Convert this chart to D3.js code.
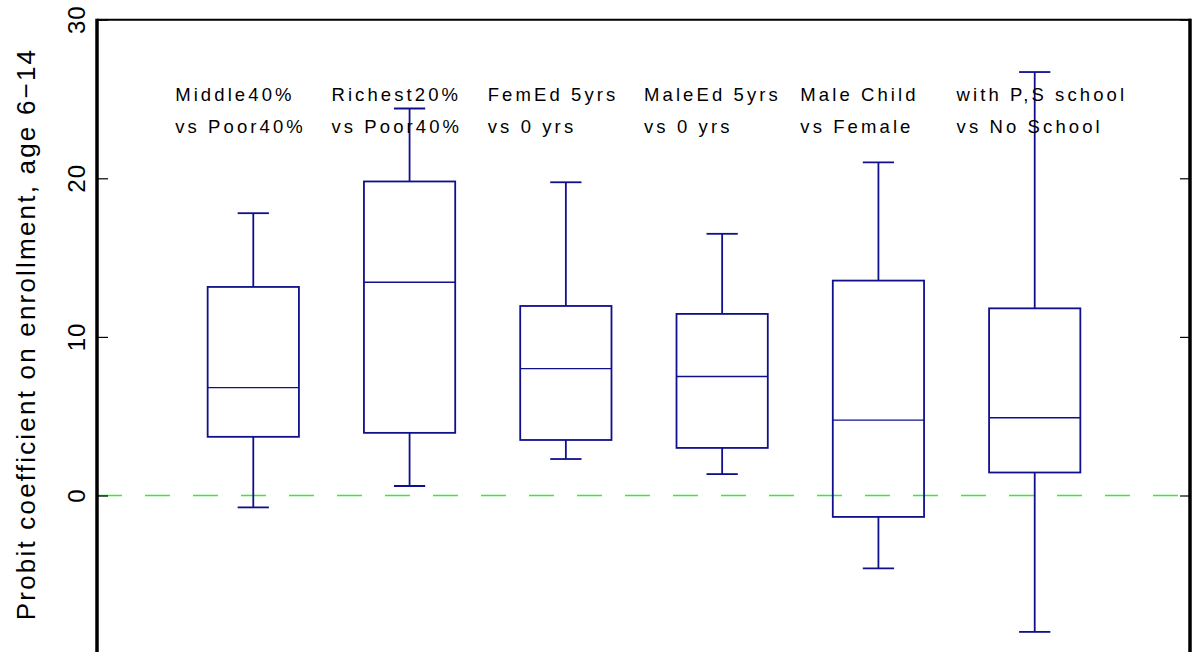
<!DOCTYPE html>
<html>
<head>
<meta charset="utf-8">
<script src="https://cdn.jsdelivr.net/npm/d3@7"></script>
<style>
  html, body { margin: 0; padding: 0; background: #fff; }
  svg { display: block; font-family: "Liberation Sans", Arial, Helvetica, sans-serif; }
</style>
</head>
<body>
<svg id="chart" width="1194" height="652"></svg>
<script>
// ---- data ----
const labelLine1 = ["Middle40%", "Richest20%", "FemEd 5yrs", "MaleEd 5yrs", "Male Child", "with P,S school"];
const labelLine2 = ["vs Poor40%", "vs Poor40%", "vs 0 yrs", "vs 0 yrs", "vs Female", "vs No School"];
const whiskerHigh = [17.8, 24.4, 19.75, 16.5, 21.0, 26.7];
const q3Values    = [13.15, 19.8, 11.95, 11.45, 13.55, 11.8];
const medians     = [6.8, 13.45, 8.0, 7.5, 4.75, 4.9];
const q1Values    = [3.7, 3.95, 3.5, 3.0, -1.35, 1.45];
const whiskerLow  = [-0.75, 0.6, 2.3, 1.35, -4.6, -8.6];
const yTicks = [0, 10, 20, 30];
const yLabel = "Probit coefficient on enrollment, age 6\u221214";
const referenceLine = 0;

// ---- layout ----
const svg = d3.select("#chart");
const x = d3.scaleLinear().domain([0, 7]).range([97, 1191]);
const y = d3.scaleLinear().domain([0, 30]).range([495.5, 19.7]);
const boxColor = "#10108c";
const halfW = 0.292, capW = 0.1;

// dashed green zero line
svg.append("line")
  .attr("x1", x(0)).attr("x2", x(7))
  .attr("y1", y(referenceLine)).attr("y2", y(referenceLine))
  .attr("stroke", "#33ee33").attr("stroke-width", 1.7)
  .attr("stroke-dasharray", "25,23");

// boxes
const data = labelLine1.map((d, i) => ({
  i: i + 1, hi: whiskerHigh[i], q3: q3Values[i], med: medians[i], q1: q1Values[i], lo: whiskerLow[i]
}));
const g = svg.append("g").attr("stroke", boxColor).attr("fill", "none").attr("stroke-width", 1.8);
data.forEach(d => {
  g.append("line").attr("x1", x(d.i)).attr("x2", x(d.i)).attr("y1", y(d.hi)).attr("y2", y(d.q3));
  g.append("line").attr("x1", x(d.i)).attr("x2", x(d.i)).attr("y1", y(d.q1)).attr("y2", y(d.lo));
  g.append("line").attr("x1", x(d.i - capW)).attr("x2", x(d.i + capW)).attr("y1", y(d.hi)).attr("y2", y(d.hi));
  g.append("line").attr("x1", x(d.i - capW)).attr("x2", x(d.i + capW)).attr("y1", y(d.lo)).attr("y2", y(d.lo));
  g.append("rect").attr("x", x(d.i - halfW)).attr("width", x(d.i + halfW) - x(d.i - halfW))
    .attr("y", y(d.q3)).attr("height", y(d.q1) - y(d.q3));
  g.append("line").attr("x1", x(d.i - halfW)).attr("x2", x(d.i + halfW))
    .attr("y1", y(d.med)).attr("y2", y(d.med)).attr("stroke-width", 1.4);
});

// category labels
const lab = svg.append("g").attr("font-size", 18.5).attr("letter-spacing", "3.1px").attr("fill", "#000");
data.forEach((d, i) => {
  lab.append("text").attr("x", x(d.i - 0.5)).attr("y", 101).text(labelLine1[i]);
  lab.append("text").attr("x", x(d.i - 0.5)).attr("y", 133).text(labelLine2[i]);
});

// axes frame
svg.append("line").attr("x1", x(0)).attr("x2", x(0)).attr("y1", y(30) - 1).attr("y2", 660)
  .attr("stroke", "#000").attr("stroke-width", 3.5);
svg.append("line").attr("x1", x(7) - 1).attr("x2", x(7) - 1).attr("y1", y(30) - 1).attr("y2", 660)
  .attr("stroke", "#000").attr("stroke-width", 3.5);
svg.append("line").attr("x1", x(0)).attr("x2", x(7)).attr("y1", y(30)).attr("y2", y(30))
  .attr("stroke", "#000").attr("stroke-width", 2);

// ticks
const leftAxis = d3.axisLeft(y).tickValues(yTicks).tickSize(-11).tickFormat(() => "");
const la = svg.append("g").attr("transform", `translate(${x(0)},0)`).call(leftAxis);
la.select(".domain").remove();
la.selectAll(".tick line").attr("stroke", "#000").attr("stroke-width", 1.2);
const rightAxis = d3.axisRight(y).tickValues(yTicks).tickSize(-10).tickFormat(() => "");
const ra = svg.append("g").attr("transform", `translate(${x(7) - 1},0)`).call(rightAxis);
ra.select(".domain").remove();
ra.selectAll(".tick line").attr("stroke", "#000").attr("stroke-width", 1.2);

// rotated tick labels
svg.append("g").selectAll("text").data(yTicks).join("text")
  .attr("transform", d => `translate(85,${y(d)}) rotate(-90)`)
  .attr("text-anchor", "middle")
  .attr("font-size", 24)
  .attr("letter-spacing", "1px")
  .attr("fill", "#000")
  .text(d => d);

// y-axis label
svg.append("text")
  .attr("transform", `translate(35,334) rotate(-90)`)
  .attr("text-anchor", "middle")
  .attr("font-size", 26)
  .attr("letter-spacing", "2.2px")
  .attr("fill", "#000")
  .text(yLabel);
</script>
</body>
</html>
